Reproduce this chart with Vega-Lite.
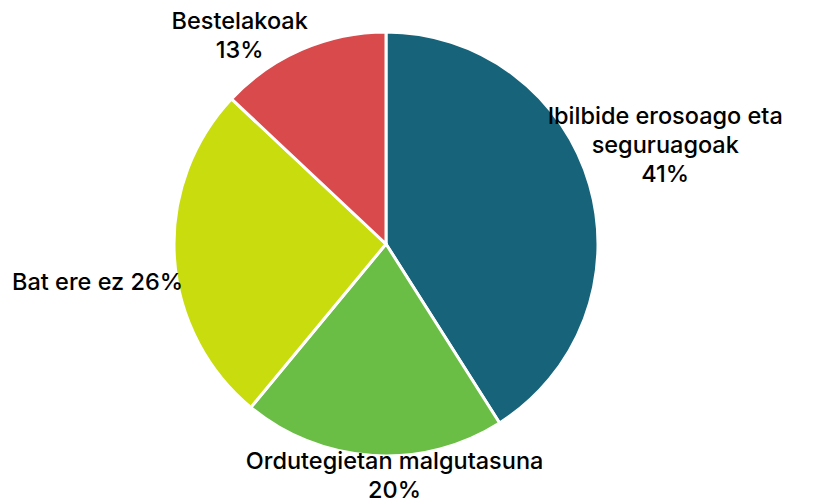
{
  "$schema": "https://vega.github.io/schema/vega-lite/v6.json",
  "width": 772,
  "height": 488,
  "padding": {"left": 0, "top": 0, "right": 42, "bottom": 12},
  "autosize": {"type": "none"},
  "background": "white",
  "config": {"view": {"stroke": null}, "text": {"font": "Inter", "fontSize": 23.5, "fontWeight": 500, "lineBreak": "\n", "lineHeight": 29, "align": "center", "baseline": "middle", "color": "black"}},
  "data": {
    "values": [
      {"category": "Ibilbide erosoago eta seguruagoak", "value": 41, "order": 1, "label": "Ibilbide erosoago eta\nseguruagoak\n41%"},
      {"category": "Ordutegietan malgutasuna", "value": 20, "order": 2, "label": "Ordutegietan malgutasuna\n20%"},
      {"category": "Bat ere ez", "value": 26, "order": 3, "label": "Bat ere ez 26%"},
      {"category": "Bestelakoak", "value": 13, "order": 4, "label": "Bestelakoak\n13%"}
    ]
  },
  "encoding": {
    "theta": {"field": "value", "type": "quantitative", "stack": true},
    "order": {"field": "order", "type": "quantitative"}
  },
  "layer": [
    {
      "mark": {"type": "arc", "outerRadius": 212, "stroke": "white", "strokeWidth": 3},
      "encoding": {
        "color": {
          "field": "category",
          "type": "nominal",
          "scale": {
            "domain": ["Ibilbide erosoago eta seguruagoak", "Ordutegietan malgutasuna", "Bat ere ez", "Bestelakoak"],
            "range": ["#17637A", "#6ABD45", "#C8DC0E", "#D84A4B"]
          },
          "legend": null
        }
      }
    },
    {
      "mark": {"type": "text", "radius": 296, "dx": -5, "dy": -44},
      "encoding": {"text": {"condition": {"test": "datum.order == 1", "field": "label"}, "value": ""}}
    },
    {
      "mark": {"type": "text", "radius": 230, "dx": 23, "dy": -12},
      "encoding": {"text": {"condition": {"test": "datum.order == 2", "field": "label"}, "value": ""}}
    },
    {
      "mark": {"type": "text", "radius": 290, "dx": 1, "dy": 21},
      "encoding": {"text": {"condition": {"test": "datum.order == 3", "field": "label"}, "value": ""}}
    },
    {
      "mark": {"type": "text", "radius": 255, "dx": -45, "dy": 12},
      "encoding": {"text": {"condition": {"test": "datum.order == 4", "field": "label"}, "value": ""}}
    }
  ]
}
